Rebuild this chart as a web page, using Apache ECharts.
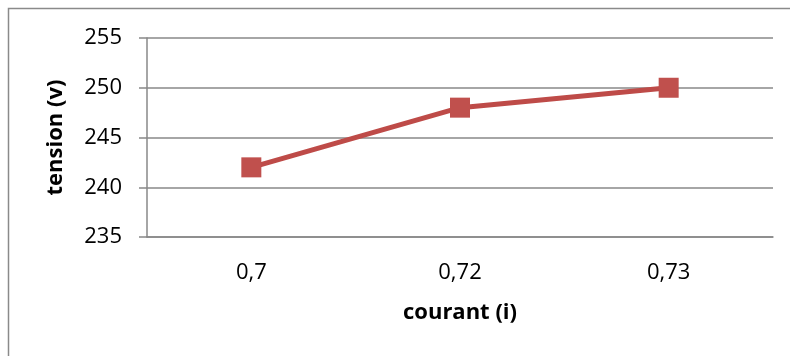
<!DOCTYPE html>
<html>
<head>
<meta charset="utf-8">
<script src="https://cdn.jsdelivr.net/npm/echarts@6/dist/echarts.min.js"></script>
<style>
  html, body { margin: 0; padding: 0; background: #fff; }
  #chart { width: 790px; height: 356px; }
</style>
</head>
<body>
<div id="chart"></div>
<script>
// courant (i) vs tension (v)
const categories = ['0,7', '0,72', '0,73'];
const tensionValues = [242, 248, 250];
const yTicks = { min: 235, max: 255, interval: 5 };

const font = '"Open Sans", "Noto Sans", sans-serif';
const gridGray = '#888888';
const seriesRed = '#BE4B48';

const chart = echarts.init(document.getElementById('chart'), null, { renderer: 'canvas' });
chart.setOption({
  animation: false,
  backgroundColor: '#ffffff',
  graphic: [{
    type: 'rect',
    shape: { x: 8.5, y: 8.5, width: 900, height: 500 },
    style: { fill: 'none', stroke: '#8a8a8a', lineWidth: 1.5 },
    silent: true
  }],
  grid: { left: 147, right: 17, top: 38, bottom: 119 },
  xAxis: {
    type: 'category',
    data: categories,
    boundaryGap: true,
    axisLine: { show: true, lineStyle: { color: gridGray, width: 1.5 } },
    axisTick: { show: false },
    axisLabel: { color: '#000', fontFamily: font, fontSize: 22, margin: 25 },
    name: 'courant (i)',
    nameLocation: 'middle',
    nameGap: 65,
    nameTextStyle: { color: '#000', fontFamily: font, fontSize: 22, fontWeight: 'bold' }
  },
  yAxis: {
    type: 'value',
    min: yTicks.min,
    max: yTicks.max,
    interval: yTicks.interval,
    axisLine: { show: true, lineStyle: { color: gridGray, width: 1.5 } },
    axisTick: { show: true, length: 8, lineStyle: { color: gridGray, width: 1.5 } },
    axisLabel: { color: '#000', fontFamily: font, fontSize: 22, margin: 25 },
    splitLine: { show: true, lineStyle: { color: gridGray, width: 1.5 } },
    name: 'tension (v)',
    nameLocation: 'middle',
    nameGap: 80,
    nameRotate: 90,
    nameTextStyle: { color: '#000', fontFamily: font, fontSize: 22, fontWeight: 'bold' }
  },
  series: [{
    type: 'line',
    data: tensionValues,
    symbol: 'rect',
    symbolSize: 20,
    lineStyle: { color: seriesRed, width: 5 },
    itemStyle: { color: '#C0504D' }
  }]
});
</script>
</body>
</html>
